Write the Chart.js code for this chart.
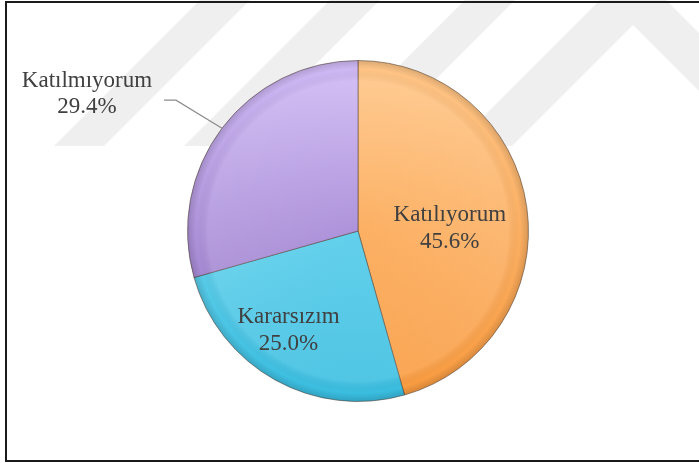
<!DOCTYPE html>
<html>
<head>
<meta charset="utf-8">
<script src="https://cdn.jsdelivr.net/npm/chart.js@4"></script>
<style>
  body { margin: 0; background: #fff; }
  #wrap { width: 699px; height: 463px; }
</style>
</head>
<body>
<div id="wrap"><canvas id="chart" width="699" height="463"></canvas></div>
<script>
const categories = ["Katılıyorum", "Kararsızım", "Katılmıyorum"];
const percents = [45.6, 25.0, 29.4];

// top / bottom gradient colours for each slice
const sliceColors = [
  ["#ffc688", "#f99a3e"],
  ["#8ee4f8", "#38bde0"],
  ["#d0baf5", "#8c6cc0"]
];

// where each label sits: inside (fraction of radius + nudge) or outside with a leader line
const labelPlace = [
  { inside: true, f: 0.52, dx: 4, dy: 9 },
  { inside: true, f: 0.62, dx: -18, dy: 7 },
  { inside: false }
];

const font = "23px 'Liberation Serif', serif";
const textColor = "#404040";

const watermark = {
  id: "watermark",
  beforeDraw(chart) {
    const c = chart.ctx;
    c.save();
    c.fillStyle = "#efefef";
    const bottom = 146;
    [200, 330, 465].forEach(x0 => {
      c.beginPath();
      c.moveTo(x0, 0);
      c.lineTo(x0 + 50, 0);
      c.lineTo(x0 + 50 - bottom, bottom);
      c.lineTo(x0 - bottom, bottom);
      c.closePath();
      c.fill();
    });
    // chevron on the right
    c.beginPath();
    c.moveTo(600, 0);
    c.lineTo(666, 0);
    c.lineTo(699, 33);
    c.lineTo(699, 91);
    c.lineTo(633, 25);
    c.lineTo(658 - bottom, bottom);
    c.lineTo(600 - bottom, bottom);
    c.closePath();
    c.fill();
    c.restore();
  },
  afterDraw(chart) {
    const c = chart.ctx;
    c.save();
    c.strokeStyle = "#1a1a1a";
    c.lineWidth = 2;
    c.beginPath();
    c.moveTo(699, 2);
    c.lineTo(6, 2);
    c.lineTo(6, 461);
    c.lineTo(699, 461);
    c.stroke();
    c.restore();
  }
};

const pieLabels = {
  id: "pieLabels",
  afterDatasetsDraw(chart) {
    const c = chart.ctx;
    const meta = chart.getDatasetMeta(0);
    const a0 = meta.data[0];

    // soft bevel on the rim
    c.save();
    const R = a0.outerRadius;
    const rg = c.createRadialGradient(a0.x, a0.y, 0, a0.x, a0.y, R);
    rg.addColorStop(0, "rgba(255,255,255,0)");
    rg.addColorStop(0.88, "rgba(255,255,255,0.10)");
    rg.addColorStop(0.95, "rgba(0,0,0,0)");
    rg.addColorStop(1, "rgba(0,0,0,0.14)");
    c.fillStyle = rg;
    c.beginPath();
    c.arc(a0.x, a0.y, R, 0, Math.PI * 2);
    c.fill();
    c.restore();

    c.save();
    c.font = font;
    c.fillStyle = textColor;
    c.textAlign = "center";
    c.textBaseline = "alphabetic";
    meta.data.forEach((arc, i) => {
      const p = arc.getProps(["x", "y", "startAngle", "endAngle", "outerRadius"]);
      const mid = (p.startAngle + p.endAngle) / 2;
      const cos = Math.cos(mid), sin = Math.sin(mid);
      const text2 = percents[i].toFixed(1) + "%";
      const lp = labelPlace[i];
      if (lp.inside) {
        const x = p.x + cos * p.outerRadius * lp.f + lp.dx;
        const y = p.y + sin * p.outerRadius * lp.f + lp.dy;
        c.fillText(categories[i], x, y - 7);
        c.fillText(text2, x, y + 20);
      } else {
        const ex = p.x + cos * p.outerRadius;
        const ey = p.y + sin * p.outerRadius;
        const bx = ex - 46, by = ey - 28;
        const tx = bx - 12;
        c.strokeStyle = "#8c8c8c";
        c.lineWidth = 1.2;
        c.beginPath();
        c.moveTo(ex, ey);
        c.lineTo(bx, by);
        c.lineTo(tx, by);
        c.stroke();
        c.fillText(categories[i], tx - 77, by - 13);
        c.fillText(text2, tx - 77, by + 13);
      }
    });
    c.restore();
  }
};

new Chart(document.getElementById("chart"), {
  type: "pie",
  data: {
    labels: categories,
    datasets: [{
      data: percents,
      backgroundColor(ctx) {
        const area = ctx.chart.chartArea;
        const cols = sliceColors[ctx.dataIndex];
        if (!area) return cols[0];
        const g = ctx.chart.ctx.createLinearGradient(0, area.top, 0, area.bottom);
        g.addColorStop(0, cols[0]);
        g.addColorStop(1, cols[1]);
        return g;
      },
      borderColor: "rgba(80,60,50,0.55)",
      borderWidth: 1
    }]
  },
  options: {
    responsive: false,
    animation: false,
    layout: { padding: { top: 60, bottom: 61, left: 100, right: 83 } },
    plugins: {
      legend: { display: false },
      tooltip: { enabled: false }
    }
  },
  plugins: [watermark, pieLabels]
});
</script>
</body>
</html>
